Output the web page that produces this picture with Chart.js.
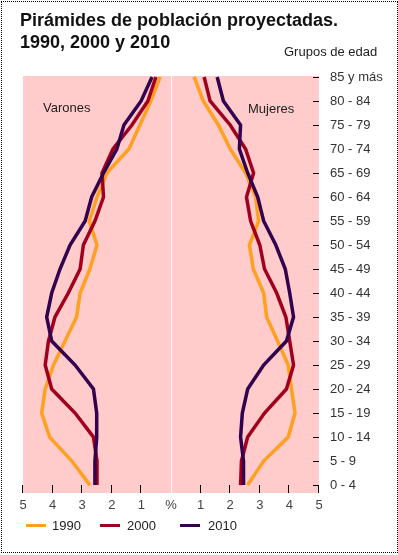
<!DOCTYPE html>
<html>
<head>
<meta charset="utf-8">
<script src="https://cdn.jsdelivr.net/npm/chart.js@4.4.1/dist/chart.umd.min.js"></script>
<style>
  html, body { margin: 0; padding: 0; background: #fff; }
  body { width: 398px; height: 555px; position: relative; overflow: hidden; font-family: 'Liberation Sans', Arial, sans-serif; }
  .frame { position: absolute; left: 1px; top: 1px; width: 395px; height: 550px; border: 1px dotted #000; }
  canvas { position: absolute; left: 0; top: 0; }
  .title { position: absolute; left: 20px; top: 9px; font-size: 18px; font-weight: bold; line-height: 22px; color: #111; }
  .txt { position: absolute; font-size: 13px; color: #222; white-space: nowrap; }
  .swatch { position: absolute; width: 20px; height: 3px; top: 524px; }
</style>
</head>
<body>
<div class="frame"></div>
<canvas id="chart" width="398" height="555"></canvas>
<div class="title">Pirámides de población proyectadas.<br>1990, 2000 y 2010</div>
<div class="txt" style="left:284px; top:44px;">Grupos de edad</div>
<div class="txt" style="left:43px; top:100px;">Varones</div>
<div class="txt" style="left:248px; top:101px;">Mujeres</div>
<div class="swatch" style="left:26px; background:#ffa020;"></div>
<div class="txt" style="left:52px; top:518px;">1990</div>
<div class="swatch" style="left:100px; background:#a0001e;"></div>
<div class="txt" style="left:127px; top:518px;">2000</div>
<div class="swatch" style="left:180px; background:#330050;"></div>
<div class="txt" style="left:208px; top:518px;">2010</div>
<script>
// grupos de edad, de abajo (0 - 4) hacia arriba (85 y más)
const ageGroups = ['0 - 4', '5 - 9', '10 - 14', '15 - 19', '20 - 24', '25 - 29', '30 - 34', '35 - 39', '40 - 44',
  '45 - 49', '50 - 54', '55 - 59', '60 - 64', '65 - 69', '70 - 74', '75 - 79', '80 - 84', '85 y más'];
const years = ['1990', '2000', '2010'];
const colors = ['#ffa020', '#a0001e', '#330050'];

// % de población por grupo de edad
const men1990 = [2.74, 3.35, 4.10, 4.37, 4.25, 3.97, 3.58, 3.19, 3.07, 2.74, 2.50, 2.76, 2.50, 2.17, 1.42, 1.05, 0.68, 0.37];
const men2000 = [2.50, 2.50, 2.62, 3.24, 4.03, 4.25, 4.14, 3.92, 3.47, 3.07, 2.96, 2.57, 2.28, 2.33, 1.96, 1.32, 0.78, 0.51];
const men2010 = [2.57, 2.57, 2.51, 2.51, 2.62, 3.24, 4.03, 4.20, 4.03, 3.75, 3.41, 2.90, 2.68, 2.28, 1.83, 1.59, 1.01, 0.64];
const women1990 = [2.59, 3.13, 3.96, 4.19, 4.07, 3.96, 3.60, 3.23, 3.13, 2.78, 2.65, 2.96, 2.86, 2.52, 2.00, 1.60, 1.09, 0.78];
const women2000 = [2.35, 2.38, 2.59, 3.16, 3.90, 4.14, 4.01, 3.88, 3.57, 3.16, 3.00, 2.69, 2.55, 2.79, 2.52, 2.00, 1.32, 1.12];
const women2010 = [2.45, 2.45, 2.35, 2.41, 2.59, 3.13, 3.90, 4.14, 4.01, 3.86, 3.54, 3.13, 2.93, 2.59, 2.31, 2.35, 1.77, 1.56];

const xTicks = [-5, -4, -3, -2, -1, 0, 1, 2, 3, 4, 5];

const line = (values, sign, colorIdx, label) => ({
  label,
  data: values.map((v, i) => ({ x: sign * v, y: i })),
  borderColor: colors[colorIdx],
  borderWidth: 3.5,
  pointRadius: 0,
  tension: 0,
  fill: false,
});

// purple first so it is painted on top
const datasets = [
  line(men2010, -1, 2, 'Varones 2010'),
  line(women2010, 1, 2, 'Mujeres 2010'),
  line(men2000, -1, 1, 'Varones 2000'),
  line(women2000, 1, 1, 'Mujeres 2000'),
  line(men1990, -1, 0, 'Varones 1990'),
  line(women1990, 1, 0, 'Mujeres 1990'),
];

const pyramidDecor = {
  id: 'pyramidDecor',
  beforeDraw(chart) {
    const { ctx, chartArea } = chart;
    ctx.save();
    ctx.fillStyle = '#ffcbcb';
    ctx.fillRect(chartArea.left, chartArea.top, chartArea.right - chartArea.left, chartArea.bottom - chartArea.top);
    ctx.restore();
  },
  afterDraw(chart) {
    const { ctx, chartArea, scales } = chart;
    ctx.save();
    ctx.strokeStyle = '#000';
    ctx.lineWidth = 1;
    ctx.beginPath();
    scales.x.ticks.forEach((t) => {
      if (t.value === 0) return;
      const px = Math.round(scales.x.getPixelForValue(t.value)) - 0.5;
      ctx.moveTo(px, chartArea.bottom);
      ctx.lineTo(px, chartArea.bottom - 8);
    });
    scales.y.ticks.forEach((t) => {
      const py = Math.round(scales.y.getPixelForValue(t.value)) + 0.5;
      ctx.moveTo(chartArea.right - 6, py);
      ctx.lineTo(chartArea.right, py);
    });
    ctx.stroke();
    ctx.restore();
  },
};

new Chart(document.getElementById('chart'), {
  type: 'line',
  data: { datasets },
  plugins: [pyramidDecor],
  options: {
    responsive: false,
    animation: false,
    layout: { padding: { top: 76, left: 23, right: 0, bottom: 0 } },
    plugins: { legend: { display: false }, tooltip: { enabled: false } },
    scales: {
      x: {
        type: 'linear',
        min: -5,
        max: 5,
        afterBuildTicks: (scale) => { scale.ticks = xTicks.map((v) => ({ value: v })); },
        afterFit: (scale) => { scale.height = 62; },
        border: { display: false },
        grid: {
          drawTicks: false,
          lineWidth: 1,
          color: (ctx) => (ctx.tick && ctx.tick.value === 0 ? '#ffffff' : 'rgba(0,0,0,0)'),
        },
        ticks: {
          padding: 5,
          color: '#444',
          font: { family: "'Liberation Sans', Arial, sans-serif", size: 13 },
          callback: (v) => (v === 0 ? '%' : String(Math.abs(v))),
          maxRotation: 0,
        },
      },
      y: {
        type: 'linear',
        position: 'right',
        min: -0.33,
        max: 17.04,
        afterBuildTicks: (scale) => { scale.ticks = ageGroups.map((_, i) => ({ value: i })); },
        afterFit: (scale) => { scale.width = 79; },
        border: { display: false },
        grid: { display: false, drawTicks: false },
        ticks: {
          padding: 11,
          color: '#333',
          font: { family: "'Liberation Sans', Arial, sans-serif", size: 13 },
          callback: (v) => ageGroups[v],
        },
      },
    },
  },
});
</script>
</body>
</html>
